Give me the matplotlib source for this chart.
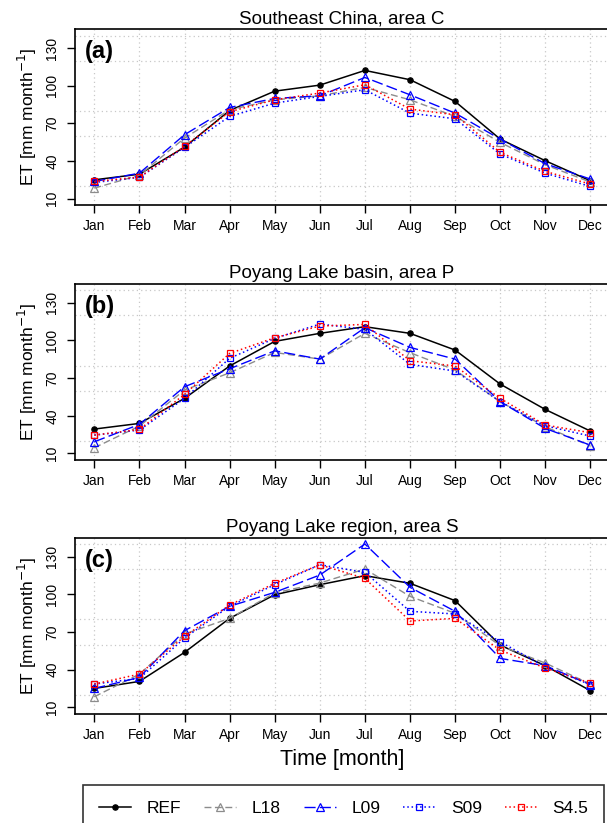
import matplotlib
matplotlib.use("Agg")
import matplotlib.pyplot as plt
from matplotlib.ticker import MultipleLocator
from matplotlib.lines import Line2D
import numpy as np

plt.rcParams['font.family'] = ['Liberation Sans', 'DejaVu Sans']

months = ['Jan', 'Feb', 'Mar', 'Apr', 'May', 'Jun',
          'Jul', 'Aug', 'Sep', 'Oct', 'Nov', 'Dec']
titles = ['Southeast China, area C', 'Poyang Lake basin, area P',
          'Poyang Lake region, area S']
panel_labels = ['(a)', '(b)', '(c)']
series_names = ['REF', 'L18', 'L09', 'S09', 'S4.5']

# (a) Southeast China
ref_a = [25.1, 29.6, 51.1, 80.3, 95.7, 100.5, 112.2, 104.8, 87.5, 57.5, 40.3, 24.3]
l18_a = [18.5, 28.8, 58.3, 80.9, 88.8, 92.0, 98.7, 88.8, 75.6, 54.9, 37.1, 23.3]
l09_a = [23.8, 30.4, 61.0, 82.7, 89.9, 92.0, 106.6, 92.8, 78.2, 57.5, 37.9, 25.7]
s09_a = [23.0, 27.0, 50.9, 75.6, 86.2, 91.5, 96.8, 78.2, 73.7, 45.6, 30.4, 19.8]
s45_a = [23.8, 27.3, 51.7, 79.3, 88.8, 94.2, 100.8, 81.4, 76.9, 46.9, 31.8, 21.7]

# (b) Poyang Lake basin
ref_b = [29.4, 33.9, 53.8, 79.6, 99.2, 105.6, 110.9, 105.6, 92.3, 65.2, 45.0, 27.8]
l18_b = [14.5, 31.8, 60.4, 74.2, 90.4, 85.1, 105.6, 90.2, 76.4, 51.2, 31.2, 16.0]
l09_b = [19.3, 33.1, 63.1, 77.4, 91.7, 85.1, 110.1, 94.4, 85.1, 51.2, 29.9, 16.6]
s09_b = [24.6, 28.6, 53.8, 85.7, 101.6, 113.0, 108.8, 80.9, 75.6, 51.2, 32.0, 23.8]
s45_b = [24.6, 29.1, 57.0, 89.6, 102.1, 111.4, 112.7, 83.8, 79.6, 53.8, 32.6, 26.5]

# (c) Poyang Lake region
ref_c = [25.1, 30.7, 53.8, 80.9, 99.7, 107.7, 114.9, 108.8, 95.0, 59.6, 43.2, 23.3]
l18_c = [18.5, 36.5, 68.4, 80.9, 101.1, 109.0, 120.2, 98.4, 84.9, 59.1, 45.3, 28.6]
l09_c = [25.1, 33.9, 71.1, 90.5, 101.6, 115.4, 140.1, 105.6, 86.5, 49.0, 43.2, 28.1]
s09_c = [28.6, 33.1, 65.2, 90.5, 107.7, 123.6, 117.5, 86.5, 84.4, 62.2, 42.4, 28.1]
s45_c = [28.6, 36.5, 66.5, 91.5, 108.8, 123.6, 112.7, 78.8, 80.9, 55.6, 41.3, 29.4]

panels = [
    [ref_a, l18_a, l09_a, s09_a, s45_a],
    [ref_b, l18_b, l09_b, s09_b, s45_b],
    [ref_c, l18_c, l09_c, s09_c, s45_c],
]

styles = [
    dict(color='black', linestyle='-', marker='o', markersize=3.8,
         markerfacecolor='black', lw=1.1),
    dict(color='#8c8c8c', linestyle=(0, (5, 2.5)), marker='^', markersize=6,
         markerfacecolor='none', lw=1.0),
    dict(color='#0000ff', linestyle=(0, (8, 3)), marker='^', markersize=6,
         markerfacecolor='none', lw=1.0),
    dict(color='#0000ff', linestyle=(0, (1, 1.8)), marker='s', markersize=4.8,
         markerfacecolor='none', lw=1.1),
    dict(color='#ff0000', linestyle=(0, (1, 1.8)), marker='s', markersize=4.8,
         markerfacecolor='none', lw=1.1),
]

fig = plt.figure(figsize=(6.07, 8.23), dpi=100)
x = np.arange(1, 13)

# month spacing ~45.1 px, Jan at x=94.3; the box runs past the right edge
left_px, right_px = 74.7, 620
left = left_px / 607
width = (right_px - left_px) / 607
xlo = 1 - (94.3 - left_px) / 45.1
xhi = 12 + (right_px - 590.4) / 45.1
title_x = (342 - left_px) / (right_px - left_px)
bottoms = [0.7505, 0.4411, 0.1325]
height = 0.2143

for i, data in enumerate(panels):
    ax = fig.add_axes([left, bottoms[i], width, height])
    for vals, st in zip(data, styles):
        ax.plot(x, vals, markeredgewidth=0.9, **st)
    ax.set_xlim(xlo, xhi)
    ax.set_ylim(4.8, 145.2)
    ax.set_xticks(x)
    ax.set_xticklabels(months, fontsize=10)
    ax.set_yticks([10, 40, 70, 100, 130])
    ax.yaxis.set_minor_locator(MultipleLocator(20))
    ax.tick_params(axis='y', which='minor', length=0)
    ax.tick_params(axis='both', which='major', length=6, width=1.0,
                   labelsize=10, direction='out')
    ax.tick_params(axis='x', pad=4)
    ax.tick_params(axis='y', pad=5, labelrotation=90)
    for lab in ax.get_yticklabels():
        lab.set_va('center')
    ax.grid(which='minor', axis='y', color='#c8c8c8', linestyle=(0, (1, 2.5)), lw=0.9)
    ax.grid(which='major', axis='x', color='#c8c8c8', linestyle=(0, (1, 2.5)), lw=0.9)
    ax.set_axisbelow(True)
    for sp in ax.spines.values():
        sp.set_linewidth(1.2)
    ax.set_title(titles[i], fontsize=13.5, pad=4, x=title_x)
    ax.text(0.018, 0.87, panel_labels[i], transform=ax.transAxes,
            fontsize=17, fontweight='bold', va='center', ha='left')
    fig.text(27 / 607, bottoms[i] + height / 2, 'ET [mm month$^{-1}$]',
             rotation=90, ha='center', va='center', fontsize=12.5)

fig.text(342 / 607, 1 - 760 / 823, 'Time [month]', ha='center', va='center',
         fontsize=15.5)

handles = [Line2D([], [], markeredgewidth=0.9, **st) for st in styles]
top = 1 - 785 / 823
leg = fig.legend(handles, series_names, ncol=5, loc='upper left',
                 bbox_to_anchor=(83.3 / 607, top - 0.05, (604 - 83.3) / 607, 0.05),
                 mode='expand', borderaxespad=0, fontsize=12.5, frameon=True,
                 fancybox=False, edgecolor='black', handlelength=1.85,
                 handletextpad=0.9, borderpad=0.9)
leg.get_frame().set_linewidth(1.2)

fig.savefig('out.png', dpi=100)
